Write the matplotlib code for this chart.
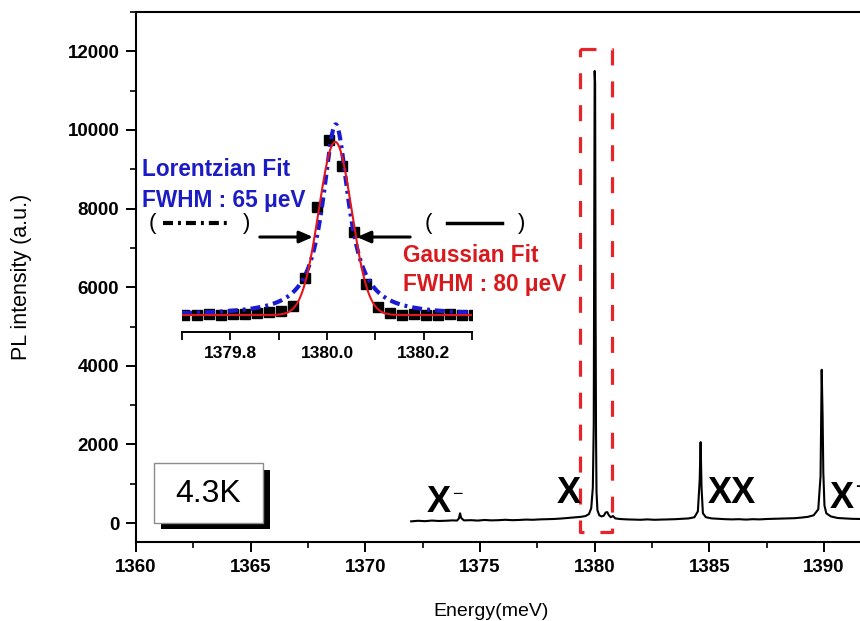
import numpy as np
import matplotlib
matplotlib.use("Agg")
import matplotlib.pyplot as plt
from matplotlib.patches import Rectangle
from matplotlib.lines import Line2D
from matplotlib.ticker import MultipleLocator

plt.rcParams['font.family'] = ['Liberation Sans', 'DejaVu Sans']

# ---- PL spectrum (meV, counts) ----
energy = [1372.0, 1372.3, 1372.6, 1372.9, 1373.2, 1373.5, 1373.8, 1374.0, 1374.08, 1374.13,
          1374.18, 1374.3, 1374.6, 1374.9, 1375.2, 1375.5, 1375.8, 1376.1, 1376.4, 1376.7,
          1377.0, 1377.3, 1377.6, 1377.9, 1378.2, 1378.5, 1378.8, 1379.1, 1379.4, 1379.6,
          1379.75, 1379.85, 1379.92, 1379.96, 1379.98, 1380.00, 1380.02, 1380.04, 1380.06, 1380.08,
          1380.12, 1380.2, 1380.3, 1380.4, 1380.48, 1380.55, 1380.62, 1380.7, 1380.8, 1380.9,
          1381.1, 1381.4, 1381.7, 1382.0, 1382.3, 1382.6, 1382.9, 1383.2, 1383.5, 1383.8,
          1384.1, 1384.35, 1384.5, 1384.58, 1384.62, 1384.66, 1384.72, 1384.85, 1385.1, 1385.4,
          1385.7, 1386.0, 1386.3, 1386.6, 1386.9, 1387.2, 1387.5, 1387.8, 1388.1, 1388.4,
          1388.7, 1389.0, 1389.3, 1389.55, 1389.75, 1389.85, 1389.9, 1389.94, 1389.97, 1390.02,
          1390.1, 1390.3, 1390.6, 1390.9, 1391.2, 1391.6]
intensity = [45, 60, 50, 65, 55, 60, 70, 65, 120, 250,
             130, 70, 75, 65, 80, 70, 75, 85, 75, 80,
             90, 85, 95, 100, 105, 115, 130, 145, 160, 180,
             230, 380, 900, 2500, 7100, 11500, 11200, 5500, 2200, 800,
             330, 200, 170, 190, 270, 280, 200, 150, 180, 120,
             105, 95, 90, 85, 95, 85, 90, 95, 100, 110,
             120, 150, 300, 1100, 2060, 900, 250, 150, 120, 110,
             100, 95, 100, 90, 100, 95, 105, 110, 115, 120,
             125, 140, 160, 200, 350, 1200, 3900, 2700, 1300, 450,
             250, 170, 130, 120, 110, 105]

# ---- zoomed X line: measured points (normalised) ----
zoom_energy = [1379.705, 1379.730, 1379.755, 1379.780, 1379.805, 1379.830, 1379.855, 1379.880,
               1379.905, 1379.930, 1379.955, 1379.980, 1380.005, 1380.030, 1380.055, 1380.080,
               1380.105, 1380.130, 1380.155, 1380.180, 1380.205, 1380.230, 1380.255, 1380.280,
               1380.305]
zoom_intensity = [0.0, 0.0, 0.005, 0.0, 0.005, 0.005, 0.01, 0.015,
                  0.025, 0.05, 0.21, 0.615, 1.0, 0.85, 0.476, 0.18,
                  0.048, 0.01, 0.0, 0.005, 0.0, 0.0, 0.005, 0.0, 0.0]

# fit parameters (meV)
gauss_center, gauss_fwhm, gauss_amp = 1380.017, 0.080, 0.99
lor_center, lor_fwhm, lor_amp = 1380.018, 0.065, 1.09

x_ticks = [1360, 1365, 1370, 1375, 1380, 1385, 1390]
y_ticks = [0, 2000, 4000, 6000, 8000, 10000, 12000]
inset_ticks = [1379.8, 1380.0, 1380.2]

W, H = 860, 621
def fx(px):
    return px / W
def fy(py):
    return 1 - py / H

fig = plt.figure(figsize=(W / 100, H / 100), dpi=100)
ax = fig.add_axes([fx(136), fy(542), fx(860) - fx(136), fy(12) - fy(542)])

ax.plot(energy, intensity, color='black', lw=1.5, zorder=3)
ax.set_xlim(1360, 1391.57)
ax.set_ylim(-480, 13000)
ax.set_xticks(x_ticks)
ax.set_yticks(y_ticks)
ax.xaxis.set_minor_locator(MultipleLocator(2.5))
ax.yaxis.set_minor_locator(MultipleLocator(1000))
ax.tick_params(which='major', direction='out', length=7, width=1.4, labelsize=13.5, pad=5)
ax.tick_params(which='minor', direction='out', length=4, width=1.2)
ax.tick_params(top=False, right=False)
for lab in ax.get_xticklabels() + ax.get_yticklabels():
    lab.set_fontweight('bold')
for s in ['left', 'bottom', 'top']:
    ax.spines[s].set_linewidth(1.5)
ax.spines['right'].set_visible(False)

ax.set_xlabel('Energy(meV)', fontsize=14)
ax.set_ylabel('PL intensity (a.u.)', fontsize=15.5)
ax.xaxis.set_label_coords(0.49, -0.115)
ax.yaxis.set_label_coords(-0.143, 0.5)

# dashed frame around the X line
fx0, fx1, fy0, fy1 = 1379.35, 1380.77, -230, 12070
ax.plot([fx0, fx1, fx1, fx0, fx0], [fy1, fy1, fy0, fy0, fy1], color='#e8232a', lw=2.3,
        linestyle=(0, (5, 5)), zorder=2)

# peak labels
lab_kw = dict(fontsize=26, fontweight='bold', ha='left', va='baseline', zorder=4)
ax.text(1372.69, 280, 'X', **lab_kw)
ax.text(1373.78, 720, '\u2212', fontsize=13, ha='left', va='center', zorder=4)
ax.text(1378.36, 508, 'X', **lab_kw)
ax.text(1384.95, 508, 'XX', **lab_kw)
ax.text(1390.27, 380, 'X', **lab_kw)
ax.text(1391.35, 900, '+', fontsize=14, fontweight='bold', ha='left', va='center', zorder=4)

# temperature box with drop shadow
fig.patches.append(Rectangle((fx(161), fy(529)), fx(270) - fx(161), fy(470) - fy(529),
                             transform=fig.transFigure, facecolor='black', edgecolor='none',
                             zorder=5))
fig.patches.append(Rectangle((fx(154), fy(523)), fx(263) - fx(154), fy(463) - fy(523),
                             transform=fig.transFigure, facecolor='white', edgecolor='#8c8c8c',
                             lw=1.0, zorder=6))
fig.text(fx(208), fy(494), '4.3K', fontsize=23, ha='center', va='center', zorder=7)

# ---- inset: zoom on the X line ----
axin = fig.add_axes([fx(182), fy(332), fx(472) - fx(182), fy(113) - fy(332)])
axin.patch.set_alpha(0)
xf = np.linspace(1379.7, 1380.3, 600)
gauss = gauss_amp * np.exp(-4 * np.log(2) * (xf - gauss_center) ** 2 / gauss_fwhm ** 2)
lor = lor_amp / (1 + 4 * (xf - lor_center) ** 2 / lor_fwhm ** 2)
axin.plot(zoom_energy, zoom_intensity, linestyle='none', marker='s', ms=7,
          color='black', zorder=2)
axin.plot(xf, lor, color='#1a1ad2', lw=3.0, linestyle=(0, (2.4, 1.2, 0.7, 1.2)), zorder=3)
axin.plot(xf, gauss, color='#e3161c', lw=1.5, zorder=4)
axin.set_xlim(1379.7, 1380.3)
axin.set_ylim(-0.097, 1.155)
axin.set_xticks(inset_ticks)
axin.xaxis.set_minor_locator(MultipleLocator(0.1))
axin.set_xticklabels(['%.1f' % t for t in inset_ticks], fontweight='bold')
axin.tick_params(which='both', direction='out', length=6, width=1.3, labelsize=12.5, pad=4)
axin.set_yticks([])
for s in ['left', 'right', 'top']:
    axin.spines[s].set_visible(False)
axin.spines['bottom'].set_linewidth(1.4)

# half-maximum arrows
arrow_kw = dict(arrowstyle='-|>,head_length=0.8,head_width=0.35', color='black', lw=2.2,
                shrinkA=0, shrinkB=0)
axin.annotate('', xy=(1379.971, 0.446), xytext=(1379.861, 0.446), arrowprops=arrow_kw)
axin.annotate('', xy=(1380.062, 0.446), xytext=(1380.172, 0.446), arrowprops=arrow_kw)

# fit labels
fit_kw = dict(fontsize=16.3, fontweight='bold', ha='left', va='center')
fig.text(fx(142), fy(170), 'Lorentzian Fit', color='#1c1cc4', **fit_kw)
fig.text(fx(142), fy(200), 'FWHM : 65 \u03bceV', color='#1c1cc4', **fit_kw)
fig.text(fx(403), fy(255), 'Gaussian Fit', color='#d81a1e', **fit_kw)
fig.text(fx(403), fy(285), 'FWHM : 80 \u03bceV', color='#d81a1e', **fit_kw)

# line-style keys
fig.text(fx(152), fy(223), '(', fontsize=16, ha='center', va='center')
fig.text(fx(247), fy(223), ')', fontsize=16, ha='center', va='center')
fig.add_artist(Line2D([fx(163), fx(228)], [fy(223), fy(223)], transform=fig.transFigure,
                      color='black', lw=3.0, linestyle=(0, (2.4, 1.2, 0.7, 1.2))))
fig.text(fx(428), fy(223), '(', fontsize=16, ha='center', va='center')
fig.text(fx(522), fy(223), ')', fontsize=16, ha='center', va='center')
fig.add_artist(Line2D([fx(447), fx(502)], [fy(223), fy(223)], transform=fig.transFigure,
                      color='black', lw=2.5))

fig.savefig('out.png', dpi=100)
